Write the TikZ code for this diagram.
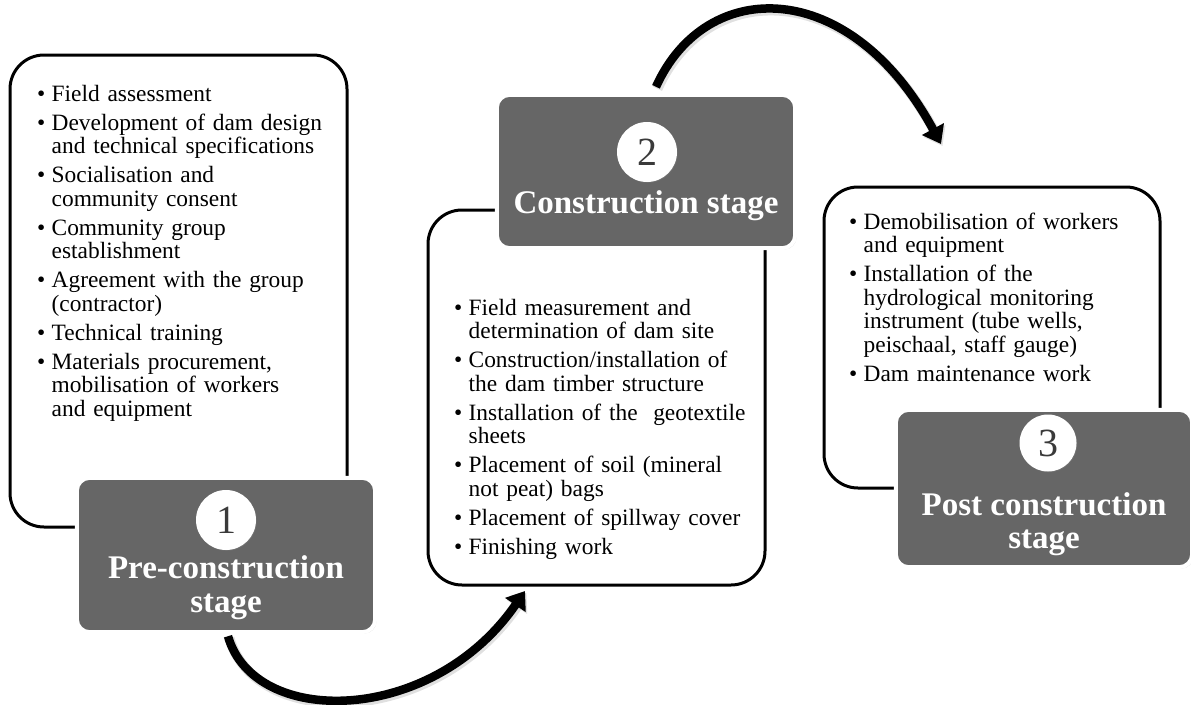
\documentclass[tikz,border=0pt]{standalone}
\usepackage{fontspec}
\setmainfont{Liberation Serif}
\usetikzlibrary{arrows.meta,shadows}

\definecolor{stagegray}{HTML}{666666}
\definecolor{numgray}{HTML}{3A3A3A}

% bullet item with hanging indent; lines are broken by hand with \newline
\newcommand\bitem[1]{\par\hangindent=14.5pt\hangafter=1\noindent\makebox[14.5pt][l]{\textbullet}#1}

\tikzset{
  listbox/.style={draw=black, line width=3pt, rounded corners=34pt, fill=white},
  listtext/.style={anchor=north west, inner sep=0pt, text width=330pt,
    font=\fontsize{23.4pt}{23.5pt}\selectfont},
  stagebox/.style={draw=white, line width=4pt, rounded corners=13pt, fill=stagegray,
    drop shadow={opacity=0.3, shadow xshift=1.5pt, shadow yshift=-1.5pt}},
  numdisc/.style={circle, fill=white, minimum size=60pt, inner sep=0pt,
    text=numgray, font=\fontsize{40pt}{40pt}\selectfont,
    drop shadow={opacity=0.35, shadow xshift=0.8pt, shadow yshift=-0.8pt}},
  stagetext/.style={anchor=base, inner sep=0pt, text=white,
    font=\bfseries\fontsize{33pt}{33pt}\selectfont},
  flow/.style={line width=8.5pt, -{Triangle[length=17pt, width=24pt]},
    preaction={draw=black!35, opacity=0.35, line width=10pt, transform canvas={shift={(1.5pt,-2pt)}}}}
}

\begin{document}
\begin{tikzpicture}[x=1pt, y=-1pt]
\useasboundingbox (0,0) rectangle (1191,704);

% white panels with the task lists
\draw[listbox] (10,55) rectangle (347,527);
\draw[listbox] (428,210) rectangle (765,585);
\draw[listbox] (824,187) rectangle (1160,488);

\node[listtext] (list1) at (37,72) {\setlength\parskip{5.5pt}%
\bitem{Field assessment}
\bitem{Development of dam design\newline and technical specifications}
\bitem{Socialisation and\newline community consent}
\bitem{Community group\newline establishment}
\bitem{Agreement with the group\newline (contractor)}
\bitem{Technical training}
\bitem{Materials procurement,\newline mobilisation of workers\newline and equipment}\par};

\node[listtext] (list2) at (454,286) {\setlength\parskip{5.5pt}%
\bitem{Field measurement and\newline determination of dam site}
\bitem{Construction/installation of\newline the dam timber structure}
\bitem{Installation of the\ \ geotextile\newline sheets}
\bitem{Placement of soil (mineral\newline not peat) bags}
\bitem{Placement of spillway cover}
\bitem{Finishing work}\par};

\node[listtext] (list3) at (849,200) {\setlength\parskip{5.5pt}%
\bitem{Demobilisation of workers\newline and equipment}
\bitem{Installation of the\newline hydrological monitoring\newline instrument (tube wells,\newline peischaal, staff gauge)}
\bitem{Dam maintenance work}\par};

% stage header frames (placed first so the connectors can run beneath them)
\node[minimum width=298pt, minimum height=154pt, inner sep=0pt] (stage1) at (226,555) {};
\node[minimum width=298pt, minimum height=153pt, inner sep=0pt] (stage2) at (646,171.5) {};
\node[minimum width=296pt, minimum height=157pt, inner sep=0pt] (stage3) at (1044,488.5) {};

\coordinate (tip1) at (525,591);
\coordinate (tip2) at (941,144);

% connectors between the stages
\draw[flow] ([xshift=2pt,yshift=-4pt]stage1.south) .. controls (254,728) and (432,726) .. (tip1);
\draw[flow] ([xshift=10pt,yshift=8pt]stage2.north) .. controls (706,-24) and (850,-24) .. (tip2);

% stage header boxes
\draw[stagebox] (stage1.north west) rectangle (stage1.south east);
\draw[stagebox] (stage2.north west) rectangle (stage2.south east);
\draw[stagebox] (stage3.north west) rectangle (stage3.south east);

\node[numdisc] (n1) at (226,520) {1};
\node[numdisc] (n2) at (647,152) {2};
\node[numdisc, minimum size=57pt] (n3) at (1048,443) {3};

\node[stagetext] (t1a) at (226,578) {Pre-construction};
\node[stagetext] (t1b) at (226,612) {stage};
\node[stagetext] (t2) at (646,213) {Construction stage};
\node[stagetext] (t3a) at (1044,515) {Post construction};
\node[stagetext] (t3b) at (1044,548) {stage};
\end{tikzpicture}
\end{document}
